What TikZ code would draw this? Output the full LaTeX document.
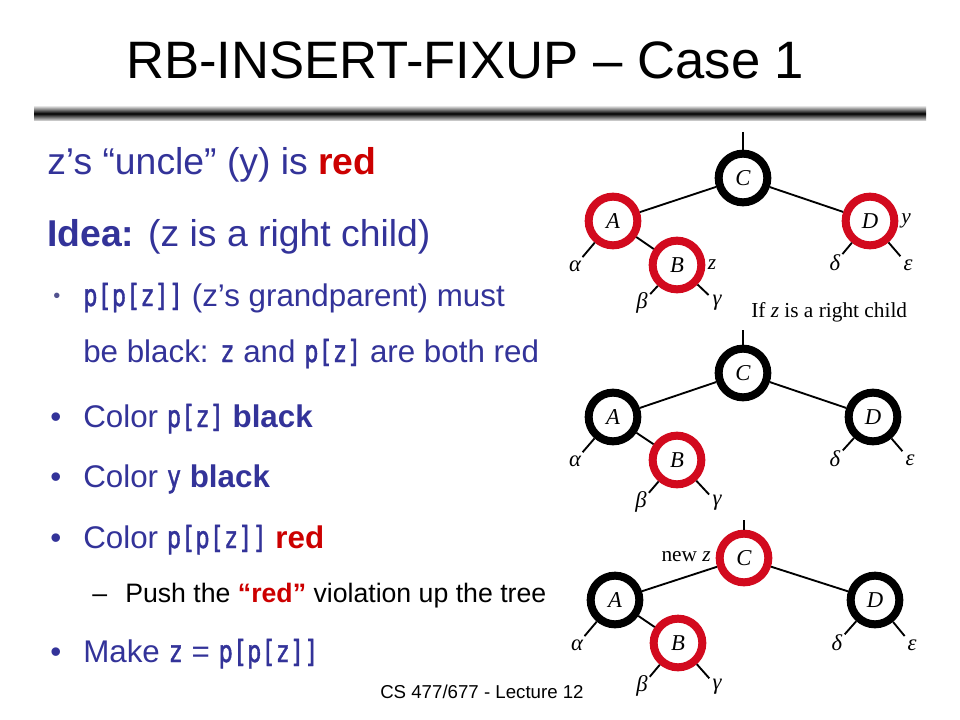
\documentclass[tikz,border=0pt]{standalone}
\usepackage{fontspec}
\setmainfont{Liberation Sans}
\newfontfamily\cf{DejaVu Sans Mono}[FakeStretch=0.78,Scale=0.97,FakeBold=1.2]
\newfontfamily\tms{Liberation Serif}
\definecolor{txtblue}{RGB}{51,51,153}
\definecolor{hlred}{RGB}{204,0,0}
\definecolor{ringred}{RGB}{210,10,30}
\begin{document}
\begin{tikzpicture}[x=0.75pt,y=-0.75pt,
  rbnode/.style={circle,draw,line width=6pt,minimum size=36.5pt,inner sep=0pt,fill=white,
    font=\tms\itshape\fontsize{17}{17}\selectfont},
  rn/.style={rbnode,draw=ringred},
  bn/.style={rbnode,draw=black},
  leaf/.style={circle,minimum size=17pt,inner sep=0pt,font=\tms\itshape\fontsize{17}{17}\selectfont},
  edge/.style={line width=1.4pt},
  tag/.style={inner sep=0pt,font=\tms\itshape\fontsize{16}{16}\selectfont},
  tx/.style={anchor=base west,inner sep=0pt,text=txtblue},
  head/.style={tx,font=\fontsize{28}{34}\selectfont},
  body/.style={tx,font=\fontsize{23.5}{28}\selectfont},
  sub/.style={anchor=base west,inner sep=0pt,font=\fontsize{20}{24}\selectfont},
]
\useasboundingbox[fill=white] (0,0) rectangle (960,720);

% title and rule
\node[anchor=base west,inner sep=0pt,font=\fontsize{39.5}{40}\selectfont] (title) at (126,79) {RB-INSERT-FIXUP – Case 1};
\shade[top color=gray!20,bottom color=gray!20,middle color=black] (34,106) rectangle (926,121);

% left column
\node[head] (h1) at (47,175) {z’s “uncle” (y) is \textbf{\textcolor{hlred}{red}}};
\node[head] (h2) at (47,247) {\textbf{Idea:} (z is a right child)};

\node[tx,text=txtblue!60!gray,font=\fontsize{15}{18}\selectfont] (bu1) at (53,302) {•};
\node[body] (b1a) at (83,306) {{\cf p[p[z]]} (z’s grandparent) must};
\node[body] (b1b) at (83,362) {be black: {\cf z} and {\cf p[z]} are both red};

\node[body] (bu2) at (50,427) {•};
\node[body] (b2) at (83,427) {Color {\cf p[z]} \textbf{black}};
\node[body] (bu3) at (50,487) {•};
\node[body] (b3) at (83,487) {Color {\cf y} \textbf{black}};
\node[body] (bu4) at (50,548) {•};
\node[body] (b4) at (83,548) {Color {\cf p[p[z]]} \textbf{\textcolor{hlred}{red}}};

\node[sub] (dash) at (92,602) {–};
\node[sub] (s1) at (125,602) {Push the \textbf{\textcolor{hlred}{“red”}} violation up the tree};

\node[body] (bu5) at (50,662) {•};
\node[body] (b5) at (83,662) {Make {\cf z} = {\cf p[p[z]]}};

\node[anchor=base west,inner sep=0pt,font=\fontsize{14}{16}\selectfont] (foot) at (380,698) {CS 477/677 - Lecture 12};

% ---------- tree 1 ----------
\coordinate (top1) at (743,132);
\node[bn] (C1) at (743,178) {C};
\node[rn] (A1) at (613,221) {A};
\node[rn] (D1) at (870,221) {D};
\node[rn] (B1) at (677,265) {B};
\node[leaf] (al1) at (575,266) {α};
\node[leaf] (be1) at (642,303) {β};
\node[leaf] (ga1) at (717,303) {γ};
\node[leaf] (de1) at (835,263) {δ};
\node[leaf] (ep1) at (908,265) {ε};
\draw[edge] (top1) -- (C1);
\draw[edge] (C1) -- (A1);
\draw[edge] (C1) -- (D1);
\draw[edge] (A1) -- (B1);
\draw[edge] (A1) -- (al1);
\draw[edge] (B1) -- (be1);
\draw[edge] (B1) -- (ga1);
\draw[edge] (D1) -- (de1);
\draw[edge] (D1) -- (ep1);
\node[tag] (z1) at (712,265) {z};
\node[tag] (y1) at (906,221) {y};
\node[anchor=west,inner sep=0pt,font=\tms\fontsize{16}{16}\selectfont] (cap1) at (751,312) {If \textit{z} is a right child};

% ---------- tree 2 ----------
\coordinate (top2) at (743,330);
\node[bn] (C2) at (743,373) {C};
\node[bn] (A2) at (613,417) {A};
\node[bn] (D2) at (873,417) {D};
\node[rn] (B2) at (677,460) {B};
\node[leaf] (al2) at (575,461) {α};
\node[leaf] (be2) at (641,502) {β};
\node[leaf] (ga2) at (717,503) {γ};
\node[leaf] (de2) at (835,459) {δ};
\node[leaf] (ep2) at (910,460) {ε};
\draw[edge] (top2) -- (C2);
\draw[edge] (C2) -- (A2);
\draw[edge] (C2) -- (D2);
\draw[edge] (A2) -- (B2);
\draw[edge] (A2) -- (al2);
\draw[edge] (B2) -- (be2);
\draw[edge] (B2) -- (ga2);
\draw[edge] (D2) -- (de2);
\draw[edge] (D2) -- (ep2);

% ---------- tree 3 ----------
\coordinate (top3) at (744,520);
\node[rn] (C3) at (744,558) {C};
\node[bn] (A3) at (615,600) {A};
\node[bn] (D3) at (875,600) {D};
\node[rn] (B3) at (678,643) {B};
\node[leaf] (al3) at (577,645) {α};
\node[leaf] (be3) at (642,686) {β};
\node[leaf] (ga3) at (717,687) {γ};
\node[leaf] (de3) at (837,643) {δ};
\node[leaf] (ep3) at (912,645) {ε};
\draw[edge] (top3) -- (C3);
\draw[edge] (C3) -- (A3);
\draw[edge] (C3) -- (D3);
\draw[edge] (A3) -- (B3);
\draw[edge] (A3) -- (al3);
\draw[edge] (B3) -- (be3);
\draw[edge] (B3) -- (ga3);
\draw[edge] (D3) -- (de3);
\draw[edge] (D3) -- (ep3);
\node[anchor=east,inner sep=0pt,font=\tms\fontsize{16}{16}\selectfont] (newz) at (711,557) {new \textit{z}};
\end{tikzpicture}
\end{document}
